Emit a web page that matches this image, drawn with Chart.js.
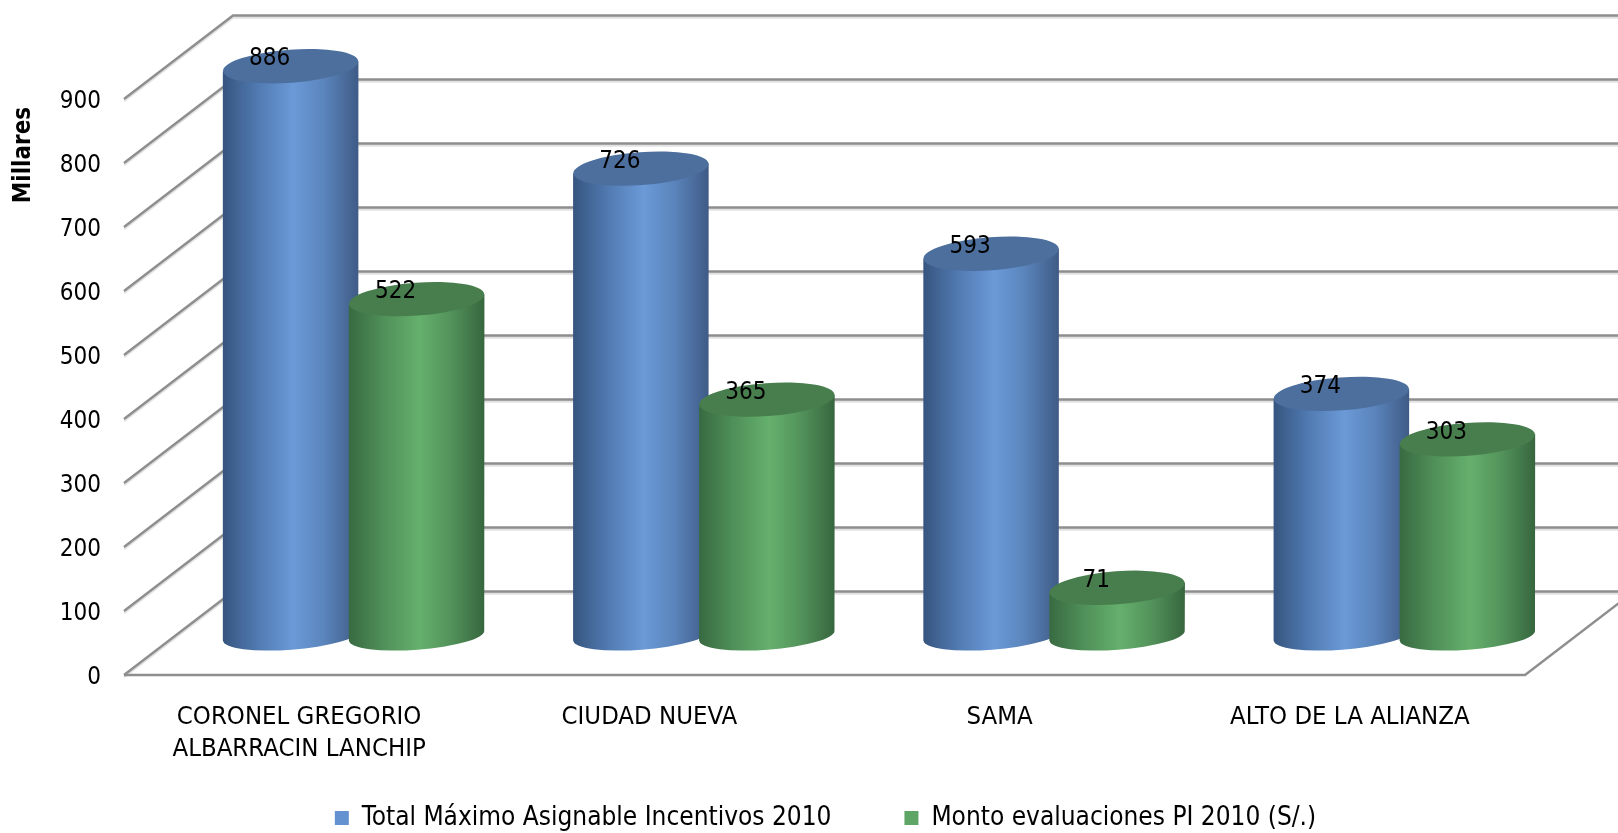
<!DOCTYPE html>
<html>
<head>
<meta charset="utf-8">
<style>
  html, body { margin: 0; padding: 0; background: #fff; }
  canvas { display: block; }
</style>
</head>
<body>
<canvas id="chart" width="1618" height="833"></canvas>
<script src="https://cdn.jsdelivr.net/npm/chart.js@4"></script>
<script>
const categories = [['CORONEL GREGORIO', 'ALBARRACIN LANCHIP'], 'CIUDAD NUEVA', 'SAMA', 'ALTO DE LA ALIANZA'];
const totalMaximo = [886, 726, 593, 374];
const montoEvaluaciones = [522, 365, 71, 303];
const seriesNames = ['Total Máximo Asignable Incentivos 2010', 'Monto evaluaciones PI 2010 (S/.)'];
const axisTitle = 'Millares';

const FONT = '"DejaVu Sans Condensed", "DejaVu Sans", sans-serif';
const DEPTH_X = 109, DEPTH_Y = 83.5; // floor depth of the fake 3D box

const blueShades = { edgeL: '#36557f', mid1: '#5079b0', mid: '#6b9ad8', mid2: '#5a84bb', edgeR: '#3f5b86', top: '#4c6f9e' };
const greenShades = { edgeL: '#386a41', mid1: '#4f8f58', mid: '#65b06d', mid2: '#53935b', edgeR: '#37663e', top: '#487e4e' };

function drawBox(chart) {
  const { ctx, scales: { y }, chartArea: area } = chart;
  ctx.save();
  y.ticks.forEach(t => {
    const py = y.getPixelForValue(t.value);
    // shadow under the line, then the line itself
    [['#e2e2e2', 2], ['#8e8e8e', 0]].forEach(([color, off]) => {
      ctx.strokeStyle = color;
      ctx.lineWidth = 2.4;
      ctx.beginPath();
      ctx.moveTo(area.left, py + off);
      ctx.lineTo(area.left + DEPTH_X, py - DEPTH_Y + off);
      ctx.lineTo(chart.width, py - DEPTH_Y + off);
      ctx.stroke();
    });
  });
  // front and right edge of the floor
  ctx.strokeStyle = '#8e8e8e';
  ctx.lineWidth = 2.4;
  ctx.beginPath();
  ctx.moveTo(area.left, area.bottom);
  ctx.lineTo(area.right, area.bottom);
  ctx.lineTo(area.right + DEPTH_X, area.bottom - DEPTH_Y);
  ctx.stroke();
  ctx.restore();
}

function drawCylinder(ctx, bar, shades, base) {
  const cx = bar.x + DEPTH_X / 2;
  const top = bar.y - DEPTH_Y / 2;
  const bottom = base - DEPTH_Y / 2 + 2.5; // base curve is a bit flatter than the lid
  const rx = bar.width * 0.538, ry = 16.5, baseRy = 14, tilt = -0.074;
  const skew = rx * Math.sin(tilt);

  const grad = ctx.createLinearGradient(cx - rx, 0, cx + rx, 0);
  grad.addColorStop(0, shades.edgeL);
  grad.addColorStop(0.25, shades.mid1);
  grad.addColorStop(0.52, shades.mid);
  grad.addColorStop(0.75, shades.mid2);
  grad.addColorStop(1, shades.edgeR);

  ctx.fillStyle = grad;
  ctx.beginPath();
  ctx.moveTo(cx - rx, top - skew);
  ctx.lineTo(cx - rx, bottom - skew);
  ctx.ellipse(cx, bottom, rx, baseRy, tilt, Math.PI, 0, true);
  ctx.lineTo(cx + rx, top + skew);
  ctx.closePath();
  ctx.fill();

  ctx.fillStyle = shades.top;
  ctx.beginPath();
  ctx.ellipse(cx, top, rx, ry, tilt, 0, Math.PI * 2);
  ctx.fill();
}

const cylinders = {
  id: 'cylinders',
  beforeDatasetsDraw(chart) {
    drawBox(chart);
    const base = chart.scales.y.getPixelForValue(0);
    [blueShades, greenShades].forEach((shades, i) => {
      chart.getDatasetMeta(i).data.forEach(bar => drawCylinder(chart.ctx, bar, shades, base));
    });
  },
  // the cylinders above replace the flat bars
  beforeDatasetDraw() { return false; },
  afterDatasetsDraw(chart) {
    const { ctx } = chart;
    ctx.save();
    ctx.fillStyle = '#000';
    ctx.font = '24px ' + FONT;
    ctx.textAlign = 'center';
    ctx.textBaseline = 'middle';
    chart.data.datasets.forEach((ds, i) => {
      chart.getDatasetMeta(i).data.forEach((bar, j) => {
        ctx.fillText(ds.data[j], bar.x + DEPTH_X / 2 - 21, bar.y - DEPTH_Y / 2 - 7);
      });
    });
    ctx.translate(24, 155);
    ctx.rotate(-Math.PI / 2);
    ctx.font = 'bold 24px ' + FONT;
    ctx.fillText(axisTitle, 0, 0);
    ctx.restore();
  },
  afterLayout(chart) {
    // legend sits off-centre in the original
    const lg = chart.legend;
    lg.left += 63;
    lg.right += 63;
    lg.top = 819 - 73 - 14;
    // y tick labels sit slightly under their tick
    const y = chart.scales.y;
    if (!y.shifted) {
      const draw = y.drawLabels;
      y.drawLabels = function (area) {
        chart.ctx.save();
        chart.ctx.translate(0, 2.5);
        draw.call(y, area);
        chart.ctx.restore();
      };
      y.shifted = true;
    }
  }
};

new Chart(document.getElementById('chart'), {
  type: 'bar',
  data: {
    labels: categories,
    datasets: [
      { label: seriesNames[0], data: totalMaximo, backgroundColor: '#6492d0', categoryPercentage: 0.7195, barPercentage: 1 },
      { label: seriesNames[1], data: montoEvaluaciones, backgroundColor: '#5fa566', categoryPercentage: 0.7195, barPercentage: 1 }
    ]
  },
  options: {
    responsive: false,
    animation: false,
    layout: { padding: { top: 99, right: 93, left: 0, bottom: -37 } },
    plugins: {
      tooltip: { enabled: false },
      legend: {
        position: 'bottom',
        labels: { boxWidth: 14, boxHeight: 14, padding: 73, color: '#000', font: { family: FONT, size: 26 } }
      }
    },
    scales: {
      x: {
        grid: { display: false },
        border: { display: false },
        afterFit(scale) { scale.height = 86; },
        ticks: {
          color: '#000', padding: 19, autoSkip: false, maxRotation: 0,
          font: { family: FONT, size: 25.5, lineHeight: 1.24 }
        }
      },
      y: {
        min: 0,
        max: 900,
        grid: { display: false },
        border: { display: false },
        afterFit(scale) { scale.width = 124; },
        ticks: {
          stepSize: 100, color: '#000', padding: 15,
          font: { family: FONT, size: 24 }
        }
      }
    }
  },
  plugins: [cylinders]
});
</script>
</body>
</html>
